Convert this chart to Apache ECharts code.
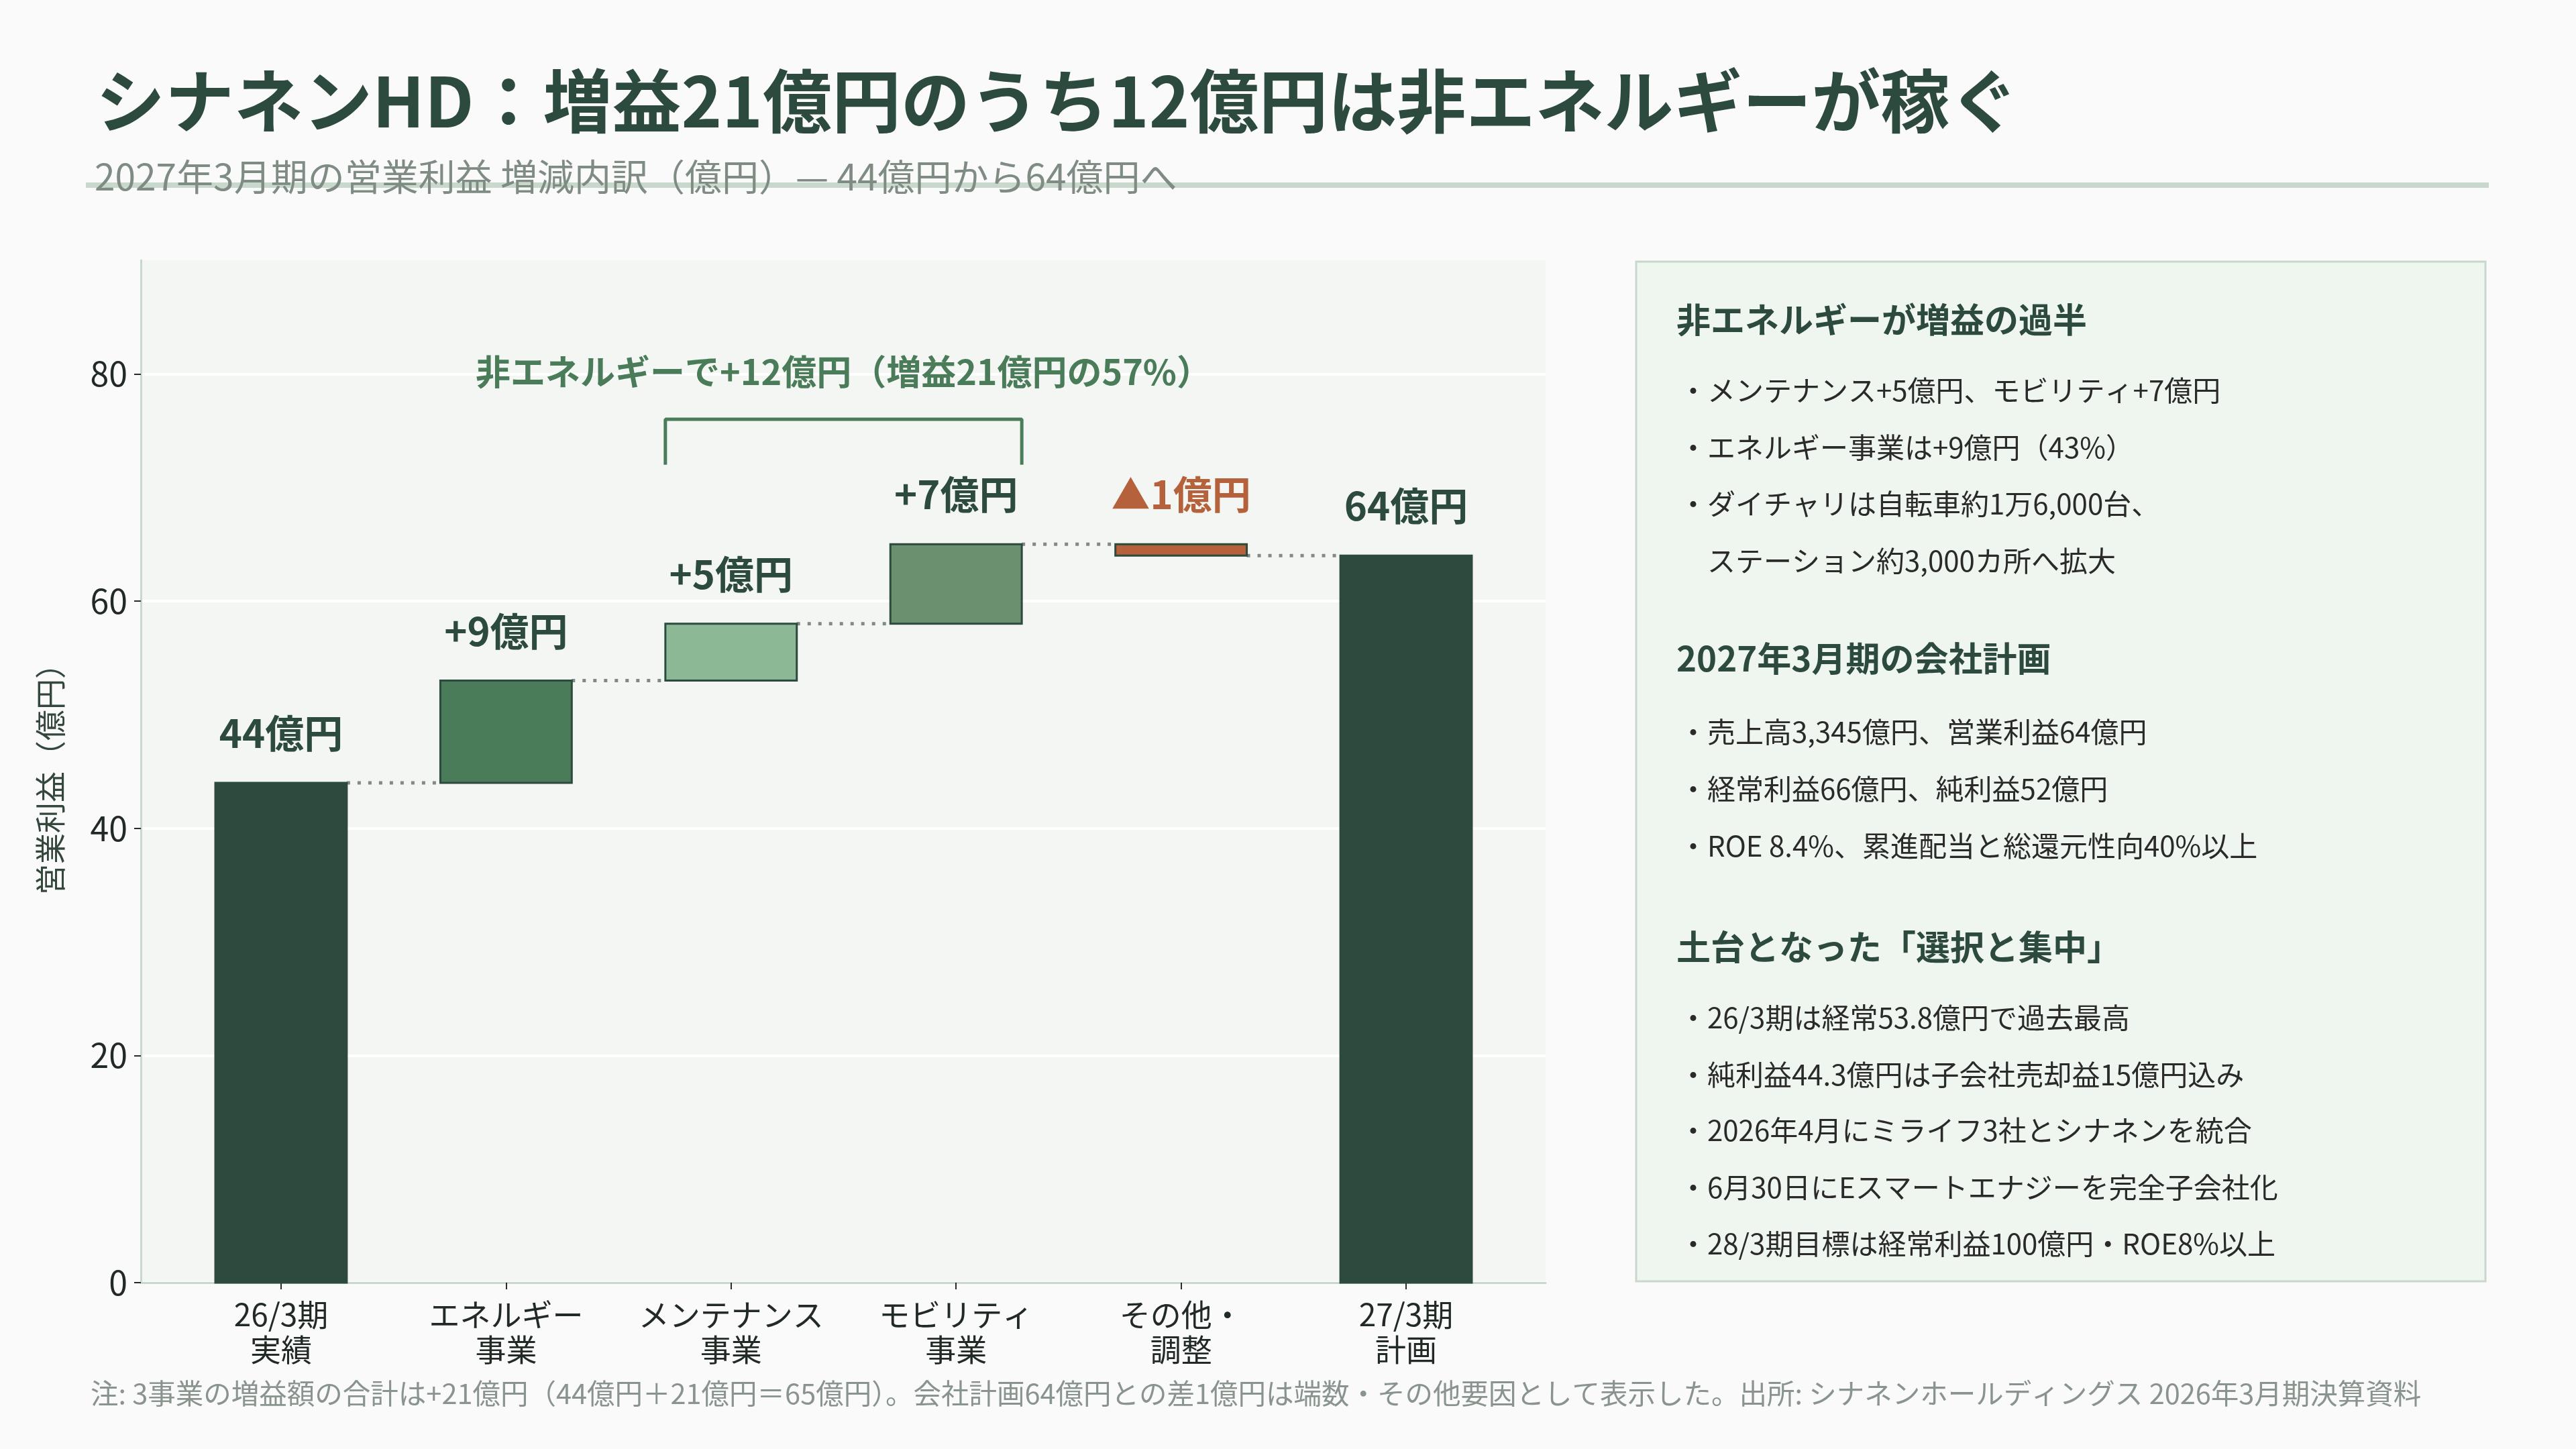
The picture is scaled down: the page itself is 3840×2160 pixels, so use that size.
<!DOCTYPE html>
<html lang="ja">
<head>
<meta charset="utf-8">
<title>シナネンHD 営業利益 増減内訳</title>
<script src="https://cdn.jsdelivr.net/npm/echarts@6.0.0/dist/echarts.min.js"></script>
<style>
  html, body { margin: 0; padding: 0; background: #fafafa; }
  #chart { width: 3840px; height: 2160px; }
</style>
</head>
<body>
<div id="chart"></div>
<script>
// --- data ---
const categories = ['26/3期\n実績', 'エネルギー\n事業', 'メンテナンス\n事業', 'モビリティ\n事業', 'その他・\n調整', '27/3期\n計画'];
const startValue = 44;
const changes = [9, 5, 7, -1];
const endValue = 64;
const valueLabels = ['44億円', '+9億円', '+5億円', '+7億円', '▲1億円', '64億円'];
const barColors = ['#2d4a3e', '#4a7c59', '#8cb896', '#6b9070', '#b5613b', '#2d4a3e'];
const yTicks = [0, 20, 40, 60, 80];
const bracketCats = [2, 3];
const bracketRange = [72, 76];
const bracketNote = '非エネルギーで+12億円（増益21億円の57%）';
const bracketNoteY = 80.2;

const FONT = "'Noto Sans CJK JP', 'Noto Sans', sans-serif";
const DARK = '#2d4a3e';
const ORANGE = '#b5613b';
const NOTE_GREEN = '#4a7c59';
const half = 0.292; // half bar width in category units

// waterfall pieces: [category index, low, high]
const pieces = [[0, 0, startValue]];
const levels = [startValue];
let level = startValue;
changes.forEach((c, k) => {
  const next = level + c;
  pieces.push([k + 1, Math.min(level, next), Math.max(level, next)]);
  level = next;
  levels.push(level);
});
pieces.push([categories.length - 1, 0, endValue]);

const catIdx = categories.map((_, i) => i);

const connectorSeries = levels.map((lv, i) => ({
  type: 'line',
  silent: true,
  symbol: 'none',
  z: 1,
  lineStyle: { color: '#7f8a84', width: 5, type: [5, 11] },
  data: [[i + half, lv], [i + 1 - half, lv]]
}));

const chart = echarts.init(document.getElementById('chart'));

const panelX = 2499;
const bulletX = 2503;
const heading = (text, y) => ({
  type: 'text', z: 10,
  style: { text, x: panelX, y, font: `bold 51px ${FONT}`, fill: DARK, verticalAlign: 'middle' }
});
const bullet = (text, y, x) => ({
  type: 'text', z: 10,
  style: { text, x: x || bulletX, y, font: `42px ${FONT}`, fill: '#2a2a2a', verticalAlign: 'middle' }
});

const options = {
  animation: false,
  backgroundColor: '#fafafa',
  textStyle: { fontFamily: FONT },
  title: [
    {
      text: 'シナネンHD：増益21億円のうち12億円は非エネルギーが稼ぐ',
      left: 138, top: 94,
      textStyle: { fontSize: 103, fontWeight: 'bold', color: DARK, fontFamily: FONT }
    },
    {
      text: '2027年3月期の営業利益 増減内訳（億円）— 44億円から64億円へ',
      left: 136, top: 231,
      textStyle: { fontSize: 55, fontWeight: 'normal', color: '#7f8c84', fontFamily: FONT }
    }
  ],
  grid: {
    left: 210, top: 388, width: 2094, height: 1524,
    show: true, backgroundColor: '#f4f6f3', borderWidth: 0
  },
  xAxis: {
    type: 'value',
    min: -0.623,
    max: 5.62,
    axisLine: { show: true, onZero: false, lineStyle: { color: '#c8d8cc', width: 3 } },
    axisTick: { show: true, customValues: catIdx, length: 10, lineStyle: { color: '#2a2a2a', width: 2 } },
    axisLabel: {
      customValues: catIdx,
      formatter: v => categories[Math.round(v)],
      fontSize: 46, lineHeight: 52, color: '#222a25', margin: 22
    },
    splitLine: { show: false }
  },
  yAxis: {
    type: 'value',
    min: 0, max: 90, interval: 20,
    name: '営業利益（億円）',
    nameLocation: 'middle',
    nameGap: 112,
    nameTextStyle: { fontSize: 46, color: '#33473c' },
    axisLine: { show: true, onZero: false, lineStyle: { color: '#c8d8cc', width: 3 } },
    axisTick: { show: true, customValues: yTicks, length: 10, lineStyle: { color: '#2a2a2a', width: 2 } },
    axisLabel: { customValues: yTicks, fontSize: 50, color: '#222a25', margin: 20 },
    splitLine: { show: true, lineStyle: { color: '#ffffff', width: 4 } }
  },
  series: [
    {
      type: 'custom',
      z: 3,
      encode: { x: 0, y: [1, 2] },
      data: pieces,
      renderItem: (params, api) => {
        const i = params.dataIndex;
        const x = api.value(0);
        const p0 = api.coord([x - half, api.value(2)]);
        const p1 = api.coord([x + half, api.value(1)]);
        return {
          type: 'group',
          children: [
            {
              type: 'rect',
              shape: { x: p0[0], y: p0[1], width: p1[0] - p0[0], height: p1[1] - p0[1] },
              style: { fill: barColors[i], stroke: DARK, lineWidth: 3 }
            },
            {
              type: 'text',
              style: {
                text: valueLabels[i],
                x: (p0[0] + p1[0]) / 2, y: p0[1] - 74,
                align: 'center', verticalAlign: 'middle',
                font: `bold 58px ${FONT}`,
                fill: i === 4 ? ORANGE : DARK
              }
            }
          ]
        };
      }
    },
    ...connectorSeries,
    {
      type: 'line',
      silent: true,
      symbol: 'none',
      lineStyle: { color: NOTE_GREEN, width: 5 },
      data: [
        [bracketCats[0] - half, bracketRange[0]],
        [bracketCats[0] - half, bracketRange[1]],
        [bracketCats[1] + half, bracketRange[1]],
        [bracketCats[1] + half, bracketRange[0]]
      ]
    },
    {
      type: 'scatter',
      silent: true,
      symbolSize: 0,
      itemStyle: { opacity: 1, color: NOTE_GREEN },
      data: [[(bracketCats[0] + bracketCats[1]) / 2, bracketNoteY]],
      label: {
        show: true, position: 'inside',
        formatter: bracketNote,
        fontSize: 52, fontWeight: 'bold', color: NOTE_GREEN,
        opacity: 1, textBorderWidth: 0
      }
    }
  ],
  graphic: [
    {
      type: 'rect', z: 0,
      shape: { x: 128, y: 272, width: 3582, height: 8 },
      style: { fill: '#c8d8cc' }
    },
    {
      type: 'rect', z: 5,
      shape: { x: 2439, y: 390, width: 1266, height: 1520 },
      style: { fill: '#eff5ef', stroke: '#c8d8cc', lineWidth: 3 }
    },
    heading('非エネルギーが増益の過半', 477),
    bullet('・メンテナンス+5億円、モビリティ+7億円', 582),
    bullet('・エネルギー事業は+9億円（43%）', 667),
    bullet('・ダイチャリは自転車約1万6,000台、', 751),
    bullet('ステーション約3,000カ所へ拡大', 836, 2545),
    heading('2027年3月期の会社計画', 982),
    bullet('・売上高3,345億円、営業利益64億円', 1091),
    bullet('・経常利益66億円、純利益52億円', 1176),
    bullet('・ROE 8.4%、累進配当と総還元性向40%以上', 1261),
    heading('土台となった「選択と集中」', 1412),
    bullet('・26/3期は経常53.8億円で過去最高', 1517),
    bullet('・純利益44.3億円は子会社売却益15億円込み', 1602),
    bullet('・2026年4月にミライフ3社とシナネンを統合', 1685),
    bullet('・6月30日にEスマートエナジーを完全子会社化', 1770),
    bullet('・28/3期目標は経常利益100億円・ROE8%以上', 1854),
    {
      type: 'text', z: 10,
      style: {
        text: '注: 3事業の増益額の合計は+21億円（44億円＋21億円＝65億円）。会社計画64億円との差1億円は端数・その他要因として表示した。出所: シナネンホールディングス 2026年3月期決算資料',
        x: 135, y: 2077, font: `41.5px ${FONT}`, fill: '#8a948e', verticalAlign: 'middle'
      }
    }
  ]
};

chart.setOption(options);
</script>
</body>
</html>
